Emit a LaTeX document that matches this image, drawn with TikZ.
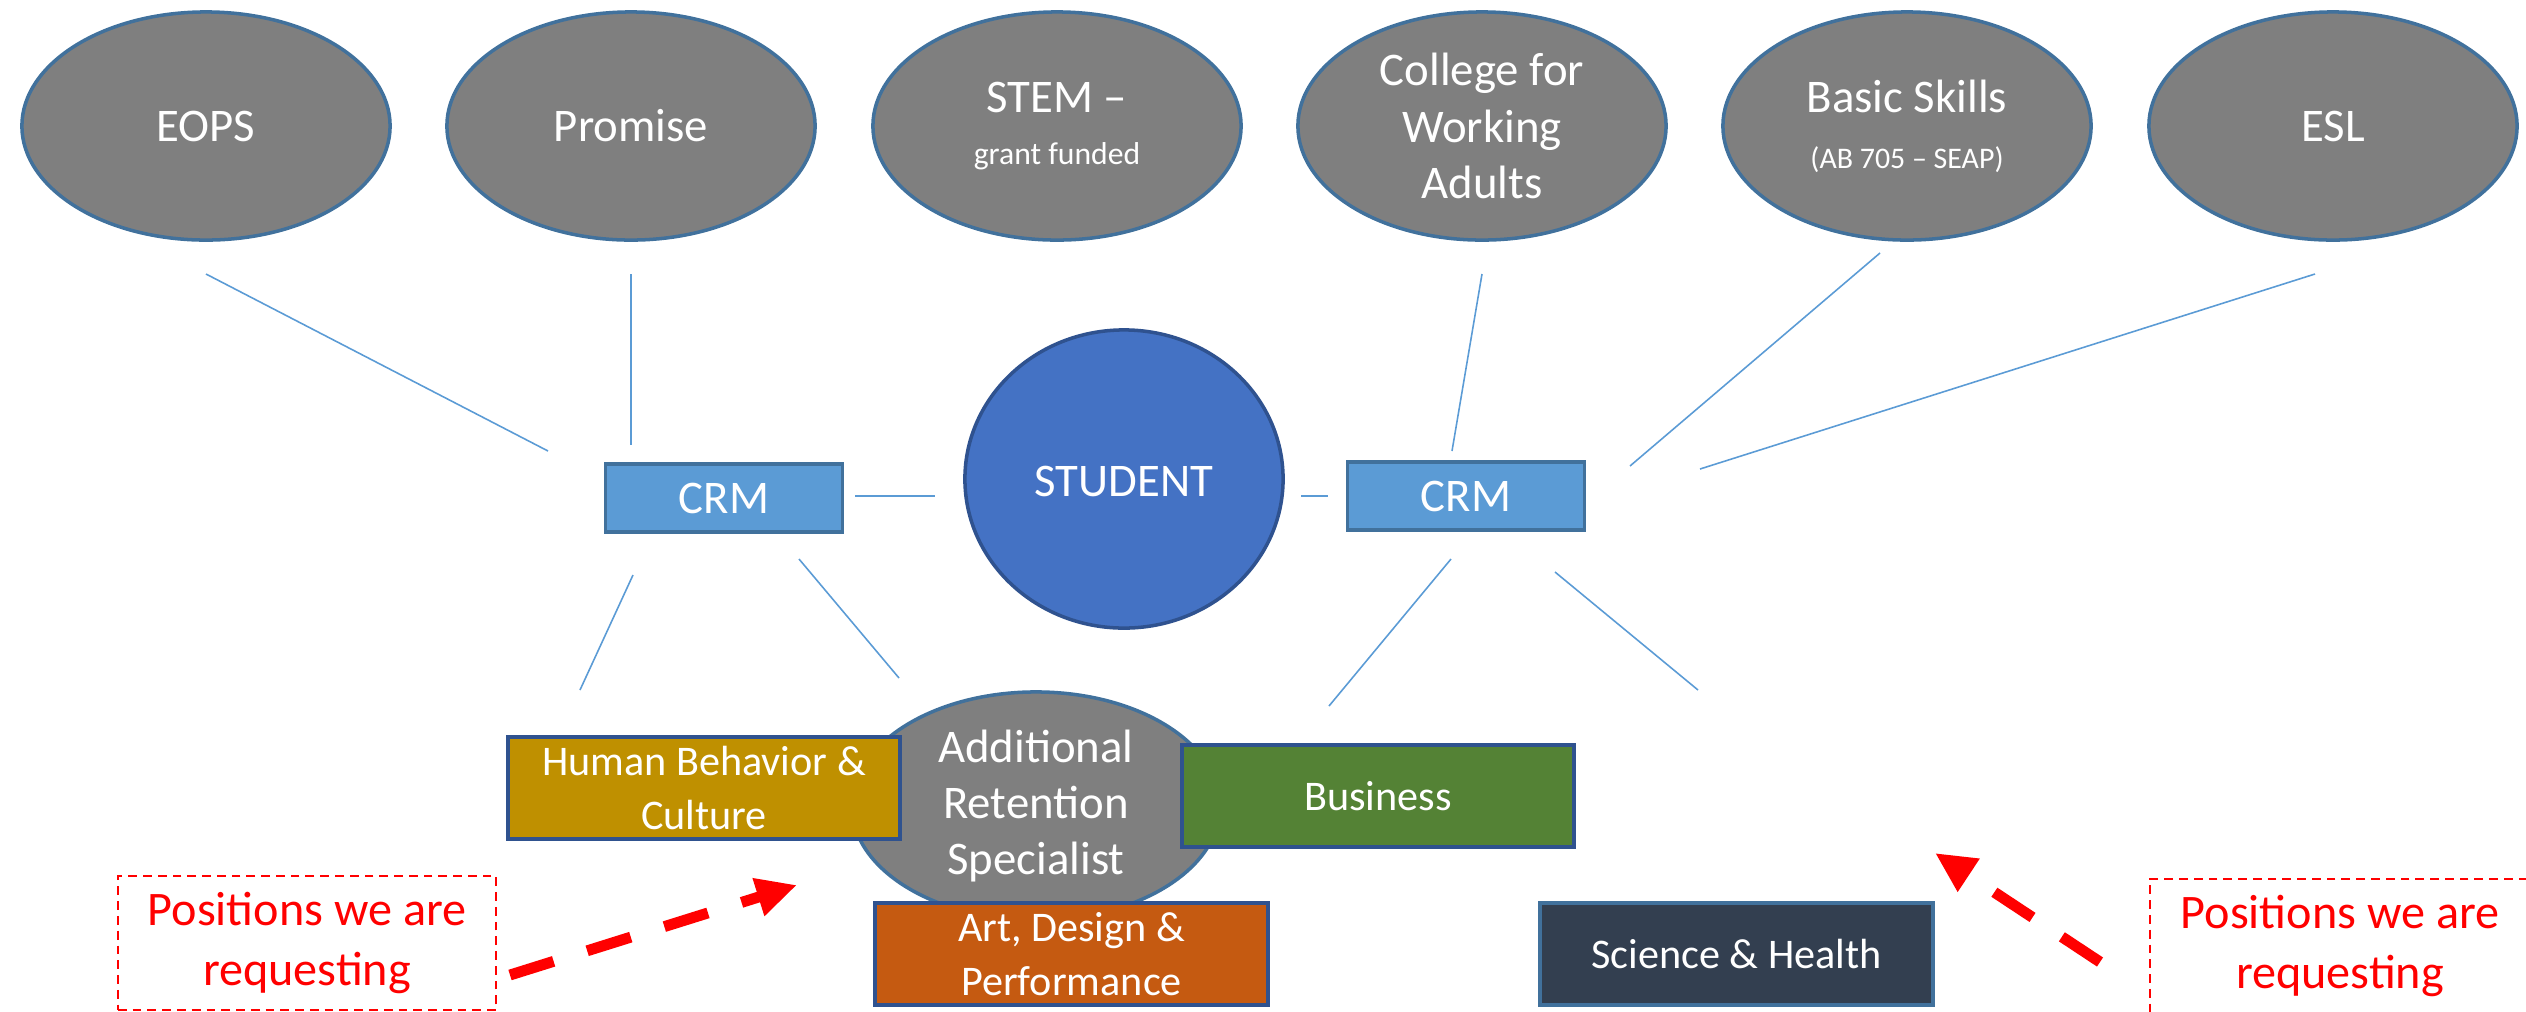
\documentclass[tikz,border=0pt]{standalone}
\usepackage{fontspec}
\setmainfont{Carlito}
\usetikzlibrary{shapes.geometric,arrows.meta}
\definecolor{ellgray}{HTML}{7F7F7F}
\definecolor{ellborder}{HTML}{41719C}
\definecolor{studfill}{HTML}{4472C4}
\definecolor{studborder}{HTML}{2F528F}
\definecolor{crmfill}{HTML}{5B9BD5}
\definecolor{connblue}{HTML}{5B9BD5}
\definecolor{deptborder}{HTML}{2F528F}
\definecolor{hbcfill}{HTML}{BF9000}
\definecolor{busfill}{HTML}{548235}
\definecolor{artfill}{HTML}{C55A11}
\definecolor{scifill}{HTML}{333F50}
\definecolor{reqred}{HTML}{FF0000}
\tikzset{
  bigell/.style={ellipse, draw=ellborder, line width=1pt, fill=ellgray,
    minimum width=3.68cm, minimum height=2.28cm, inner sep=0pt},
  wtxt/.style={text=white, align=center, inner sep=0pt,
    font=\fontsize{13.3}{16}\selectfont},
  conn/.style={draw=connblue, line width=0.45pt},
  crmbox/.style={rectangle, draw=ellborder, fill=crmfill, line width=1pt,
    minimum width=2.37cm, minimum height=0.68cm, inner sep=0pt, text=white,
    font=\fontsize{13.3}{16}\selectfont},
  dept/.style={rectangle, draw=deptborder, line width=1.1pt,
    minimum width=3.92cm, minimum height=1.02cm, inner sep=0pt, text=white,
    align=center, font=\fontsize{12}{15.4}\selectfont},
  posbox/.style={rectangle, draw=reqred, dash pattern=on 2.5pt off 1.7pt,
    line width=0.5pt, text=reqred, align=center, inner sep=0pt,
    minimum width=3.78cm, minimum height=1.34cm,
    font=\fontsize{13.7}{17}\selectfont},
  reqarrow/.style={draw=reqred, line width=3.1pt, dash pattern=on 13pt off 10pt,
    -{Triangle[length=11.5pt,width=10.5pt]}},
}
\begin{document}
\begin{tikzpicture}[x=0.01cm,y=-0.01cm]
\useasboundingbox (0,0) rectangle (2526,1011);

% top ellipses
\node[bigell] (eops) at (206,126) {};
\node[wtxt] (eopsT) at (eops.center) {EOPS};
\node[bigell] (prom) at (631,126) {};
\node[wtxt] (promT) at (prom.center) {Promise};
\node[bigell] (stem) at (1057,126) {};
\node[wtxt] (stemT) at (stem.center) {STEM –\\[-1pt]{\fontsize{9}{11}\selectfont grant funded}};
\node[bigell] (cwa) at (1482,126) {};
\node[wtxt] (cwaT) at (cwa.center) {College for\\Working\\Adults};
\node[bigell] (basic) at (1907,126) {};
\node[wtxt] (basicT) at (basic.center) {Basic Skills\\{\fontsize{8.5}{11}\selectfont (AB 705 – SEAP)}};
\node[bigell] (esl) at (2333,126) {};
\node[wtxt] (eslT) at (esl.center) {ESL};

% center
\node[ellipse, draw=studborder, line width=1pt, fill=studfill, minimum width=3.18cm,
  minimum height=2.98cm, inner sep=0pt] (student) at (1124,479) {};
\node[wtxt] (studentT) at (1124,481) {STUDENT};
\node[crmbox] (crmL) at (724,498) {CRM};
\node[crmbox] (crmR) at (1466,496) {CRM};

% connector coordinates
\coordinate (e1) at (206,274);  \coordinate (e2) at (548,451);
\coordinate (p1) at (631,274);  \coordinate (p2) at (631,445);
\coordinate (c1) at (1482,274); \coordinate (c2) at (1452,451);
\coordinate (b1) at (1880,253); \coordinate (b2) at (1630,466);
\coordinate (s1) at (2315,274); \coordinate (s2) at (1700,469);
\coordinate (l1) at (855,496);  \coordinate (l2) at (935,496);
\coordinate (r1) at (1301,496); \coordinate (r2) at (1328,496);
\coordinate (d1) at (633,575);  \coordinate (d2) at (580,690);
\coordinate (d3) at (799,559);  \coordinate (d4) at (899,678);
\coordinate (d5) at (1451,559); \coordinate (d6) at (1329,706);
\coordinate (d7) at (1555,572); \coordinate (d8) at (1698,690);
\draw[conn] (e1) -- (e2);
\draw[conn] (p1) -- (p2);
\draw[conn] (c1) -- (c2);
\draw[conn] (b1) -- (b2);
\draw[conn] (s1) -- (s2);
\draw[conn] (l1) -- (l2);
\draw[conn] (r1) -- (r2);
\draw[conn] (d1) -- (d2);
\draw[conn] (d3) -- (d4);
\draw[conn] (d5) -- (d6);
\draw[conn] (d7) -- (d8);

% bottom cluster
\node[bigell] (ars) at (1036,806) {};
\node[wtxt] (arsT) at (1036,806) {Additional\\Retention\\Specialist};
\node[dept, fill=hbcfill] (hbc) at (704,788) {Human Behavior \&\\Culture};
\node[dept, fill=busfill] (bus) at (1378,796) {Business};
\node[dept, fill=artfill] (art) at (1071.5,954) {Art, Design \&\\Performance};
\node[dept, fill=scifill, draw=ellborder] (sci) at (1736.5,954) {Science \& Health};

% requested positions
\node[posbox] (posL) at (307,943) {Positions we are\\requesting};
\node[posbox, minimum width=3.80cm] (posR) at (2340,946) {Positions we are\\requesting};
\coordinate (tipL) at (797,885);
\coordinate (tipR) at (1935,853);
\coordinate (startL) at (510,975);
\coordinate (startR) at (2100,962);
\draw[reqarrow] (startL) -- (tipL);
\draw[reqarrow] (startR) -- (tipR);
\end{tikzpicture}
\end{document}
